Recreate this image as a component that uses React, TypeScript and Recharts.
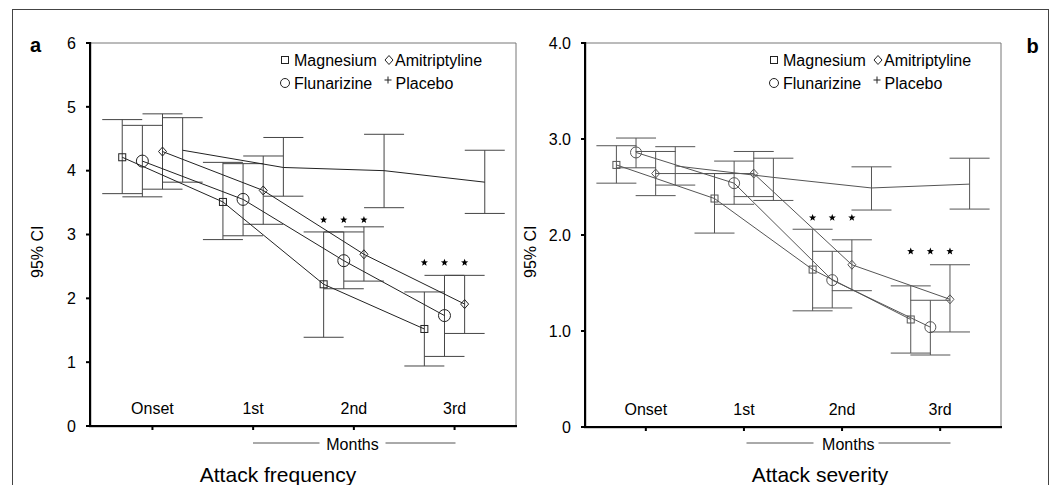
import React from 'react';
import { ScatterChart, Scatter, XAxis, YAxis, ErrorBar, ReferenceLine } from 'recharts';

const FONT = '"Liberation Sans", Arial, Helvetica, sans-serif';

const MONTHS = ['Onset', '1st', '2nd', '3rd'];
const SERIES = ['Magnesium', 'Flunarizine', 'Amitriptyline', 'Placebo'];

// Panel a: attack frequency (mean, lower CI, upper CI)
const freqMagnesium = [4.21, 3.51, 2.22, 1.52];
const freqMagnesiumLow = [3.64, 2.92, 1.39, 0.94];
const freqMagnesiumHigh = [4.8, 4.13, 3.04, 2.1];
const freqFlunarizine = [4.15, 3.55, 2.59, 1.73];
const freqFlunarizineLow = [3.59, 2.98, 2.15, 1.09];
const freqFlunarizineHigh = [4.71, 4.11, 3.04, 2.36];
const freqAmitriptyline = [4.3, 3.69, 2.69, 1.91];
const freqAmitriptylineLow = [3.71, 3.16, 2.27, 1.45];
const freqAmitriptylineHigh = [4.89, 4.23, 3.12, 2.36];
const freqPlacebo = [4.32, 4.05, 4.0, 3.82];
const freqPlaceboLow = [3.82, 3.6, 3.42, 3.33];
const freqPlaceboHigh = [4.83, 4.52, 4.57, 4.32];
const freqStars = [null, null, 3.23, 2.56];

// Panel b: attack severity
const sevMagnesium = [2.73, 2.38, 1.64, 1.12];
const sevMagnesiumLow = [2.54, 2.02, 1.21, 0.77];
const sevMagnesiumHigh = [2.93, 2.64, 2.06, 1.47];
const sevFlunarizine = [2.86, 2.54, 1.53, 1.04];
const sevFlunarizineLow = [2.7, 2.32, 1.24, 0.75];
const sevFlunarizineHigh = [3.01, 2.77, 1.83, 1.32];
const sevAmitriptyline = [2.64, 2.64, 1.69, 1.33];
const sevAmitriptylineLow = [2.41, 2.4, 1.42, 0.99];
const sevAmitriptylineHigh = [2.87, 2.87, 1.95, 1.69];
const sevPlacebo = [2.72, 2.6, 2.49, 2.53];
const sevPlaceboLow = [2.52, 2.36, 2.26, 2.27];
const sevPlaceboHigh = [2.92, 2.8, 2.71, 2.8];
const sevStars = [null, null, 2.18, 1.83];

const freqTicks = [0, 1, 2, 3, 4, 5, 6];
const sevTicks = [0, 1, 2, 3, 4];
const monthTicks = [0, 1, 2, 3];

const OFFSETS: Record<string, number> = {
  Magnesium: -0.3,
  Flunarizine: -0.1,
  Amitriptyline: 0.1,
  Placebo: 0.3,
};

type Pt = { x: number; y: number; err: number[] };

function build(name: string, mean: number[], low: number[], high: number[]): Pt[] {
  return mean.map((m, i) => ({ x: i + OFFSETS[name], y: m, err: [m - low[i], high[i] - m] }));
}

function buildStars(levels: (number | null)[]) {
  const out: { x: number; y: number }[] = [];
  levels.forEach((lv, i) => {
    if (lv == null) return;
    ['Magnesium', 'Flunarizine', 'Amitriptyline'].forEach((s) => out.push({ x: i + OFFSETS[s], y: lv }));
  });
  return out;
}

const freqData: Record<string, Pt[]> = {
  Magnesium: build('Magnesium', freqMagnesium, freqMagnesiumLow, freqMagnesiumHigh),
  Flunarizine: build('Flunarizine', freqFlunarizine, freqFlunarizineLow, freqFlunarizineHigh),
  Amitriptyline: build('Amitriptyline', freqAmitriptyline, freqAmitriptylineLow, freqAmitriptylineHigh),
  Placebo: build('Placebo', freqPlacebo, freqPlaceboLow, freqPlaceboHigh),
};
const sevData: Record<string, Pt[]> = {
  Magnesium: build('Magnesium', sevMagnesium, sevMagnesiumLow, sevMagnesiumHigh),
  Flunarizine: build('Flunarizine', sevFlunarizine, sevFlunarizineLow, sevFlunarizineHigh),
  Amitriptyline: build('Amitriptyline', sevAmitriptyline, sevAmitriptylineLow, sevAmitriptylineHigh),
  Placebo: build('Placebo', sevPlacebo, sevPlaceboLow, sevPlaceboHigh),
};

const MARKER: Record<string, string> = {
  Magnesium: 'square',
  Flunarizine: 'circle',
  Amitriptyline: 'diamond',
  Placebo: 'none',
};

function makeShape(kind: string, color: string, r: number) {
  return (props: any) => {
    const { cx, cy } = props;
    if (cx == null || cy == null) return <g />;
    if (kind === 'square')
      return <rect x={cx - 3.5} y={cy - 3.5} width={7} height={7} fill="none" stroke={color} strokeWidth={1} />;
    if (kind === 'circle') return <circle cx={cx} cy={cy} r={r} fill="none" stroke={color} strokeWidth={1} />;
    if (kind === 'diamond')
      return (
        <path
          d={`M${cx},${cy - 4.5} L${cx + 4},${cy} L${cx},${cy + 4.5} L${cx - 4},${cy} Z`}
          fill="none"
          stroke={color}
          strokeWidth={1}
        />
      );
    return <g />;
  };
}

const StarShape = (props: any) => {
  const { cx, cy } = props;
  if (cx == null || cy == null) return <g />;
  const pts: string[] = [];
  for (let k = 0; k < 10; k++) {
    const rr = k % 2 === 0 ? 3.8 : 1.6;
    const a = -Math.PI / 2 + (k * Math.PI) / 5;
    pts.push(`${cx + rr * Math.cos(a)},${cy + rr * Math.sin(a)}`);
  }
  return <polygon points={pts.join(' ')} fill="#000" />;
};

const XTick = (props: any) => {
  const { x, y, payload } = props;
  return (
    <g>
      <rect x={x - 1} y={y + 1} width={2} height={3} fill="#000" />
      <text x={x} y={y - 12} textAnchor="middle" fontSize={16} fontFamily={FONT} fill="#000">
        {MONTHS[payload.value]}
      </text>
    </g>
  );
};

type PanelProps = {
  left: number;
  width: number;
  margin: { top: number; right: number; bottom: number; left: number };
  yWidth: number;
  data: Record<string, Pt[]>;
  stars: { x: number; y: number }[];
  yMax: number;
  yTicks: number[];
  fmt: (v: number) => string;
  lineColor: string;
  barColor: string;
  circleR: number;
  xMin: number;
  xMax: number;
};

const Panel = (p: PanelProps) => (
  <div style={{ position: 'absolute', left: p.left, top: 0 }}>
    <ScatterChart width={p.width} height={485} margin={p.margin}>
      <XAxis
        type="number"
        dataKey="x"
        domain={[p.xMin, p.xMax]}
        ticks={monthTicks}
        allowDataOverflow
        height={20}
        tickSize={0}
        tickMargin={0}
        tickLine={false}
        axisLine={{ stroke: '#000', strokeWidth: 2 }}
        tick={(tp: any) => <XTick {...tp} />}
        interval={0}
      />
      <YAxis
        type="number"
        dataKey="y"
        domain={[0, p.yMax]}
        ticks={p.yTicks}
        width={p.yWidth}
        tickSize={4}
        tickMargin={10}
        tickFormatter={p.fmt}
        stroke="#000"
        tickLine={{ stroke: '#000', strokeWidth: 2 }}
        axisLine={{ stroke: '#000', strokeWidth: 2 }}
        tick={{ fontSize: 16, fill: '#000', fontFamily: FONT }}
        interval={0}
      />
      <ReferenceLine y={p.yMax} stroke="#777" strokeWidth={1} />
      <ReferenceLine x={p.xMax} stroke="#777" strokeWidth={1} />
      {SERIES.map((s) => (
        <Scatter
          key={s}
          name={s}
          data={p.data[s]}
          line={{ stroke: p.lineColor, strokeWidth: 1 }}
          shape={makeShape(MARKER[s], p.lineColor, p.circleR)}
          isAnimationActive={false}
        >
          <ErrorBar dataKey="err" direction="y" width={20} stroke={p.barColor} strokeWidth={1} isAnimationActive={false} />
        </Scatter>
      ))}
      <Scatter name="stars" data={p.stars} shape={StarShape} isAnimationActive={false} />
    </ScatterChart>
  </div>
);

const LegendBlock = ({ dx }: { dx: number }) => {
  const items = [
    { name: SERIES[0], mx: 285, my: 60, tx: 294, ty: 65.5 },
    { name: SERIES[2], mx: 389, my: 60, tx: 395, ty: 65.5 },
    { name: SERIES[1], mx: 285, my: 83, tx: 294, ty: 88.5 },
    { name: SERIES[3], mx: 388, my: 80, tx: 395.5, ty: 88.5 },
  ];
  return (
    <g>
      {items.map((it) => {
        const kind = MARKER[it.name];
        const cx = it.mx + dx;
        const cy = it.my;
        let m: React.ReactNode = null;
        if (kind === 'square') m = <rect x={cx - 3.5} y={cy - 3.5} width={7} height={7} fill="none" stroke="#222" />;
        else if (kind === 'diamond')
          m = <path d={`M${cx},${cy - 4.5} L${cx + 4},${cy} L${cx},${cy + 4.5} L${cx - 4},${cy} Z`} fill="none" stroke="#222" />;
        else if (kind === 'circle') m = <circle cx={cx} cy={cy} r={4.5} fill="none" stroke="#222" />;
        else
          m = (
            <path d={`M${cx - 3.5},${cy} L${cx + 3.5},${cy} M${cx},${cy - 3.5} L${cx},${cy + 3.5}`} stroke="#222" strokeWidth={1} />
          );
        return (
          <g key={it.name}>
            {m}
            <text x={it.tx + dx} y={it.ty} fontSize={16} fontFamily={FONT} fill="#000">
              {it.name}
            </text>
          </g>
        );
      })}
    </g>
  );
};

const Overlay = () => (
  <svg
    width={1055}
    height={485}
    style={{ position: 'absolute', left: 0, top: 0, pointerEvents: 'none' }}
  >
    <rect x={12.5} y={9.5} width={1036} height={500} fill="none" stroke="#444" strokeWidth={1} />
    {/* axis frames (bottom and left) */}
    <rect x={89} y={42} width={2.2} height={385} fill="#000" />
    <rect x={89} y={425} width={428} height={2.2} fill="#000" />
    <rect x={584} y={42} width={2.2} height={386} fill="#000" />
    <rect x={584} y={426} width={418} height={2.2} fill="#000" />
    <text x={30} y={52} fontSize={20} fontWeight="bold" fontFamily={FONT} fill="#000">a</text>
    <text x={1026.5} y={53} fontSize={20} fontWeight="bold" fontFamily={FONT} fill="#000">b</text>
    <LegendBlock dx={0} />
    <LegendBlock dx={489} />
    <text transform="translate(43,251.7) rotate(-90)" textAnchor="middle" fontSize={16} fontFamily={FONT} fill="#000">95% CI</text>
    <text transform="translate(536,251.7) rotate(-90)" textAnchor="middle" fontSize={16} fontFamily={FONT} fill="#000">95% CI</text>
    <line x1={253} y1={443} x2={319.5} y2={443} stroke="#555" />
    <text x={352.5} y={449.5} textAnchor="middle" fontSize={16} fontFamily={FONT} fill="#000">Months</text>
    <line x1={385.5} y1={443} x2={455.5} y2={443} stroke="#555" />
    <line x1={746.5} y1={443} x2={813.5} y2={443} stroke="#555" />
    <text x={848.3} y={449.5} textAnchor="middle" fontSize={16} fontFamily={FONT} fill="#000">Months</text>
    <line x1={878.5} y1={443} x2={950.5} y2={443} stroke="#555" />
    <text x={278} y={482} textAnchor="middle" fontSize={21} fontFamily={FONT} fill="#000">Attack frequency</text>
    <text x={820} y={482} textAnchor="middle" fontSize={21} fontFamily={FONT} fill="#000">Attack severity</text>
  </svg>
);

export default function App() {
  return (
    <div style={{ position: 'absolute', left: 0, top: 0, width: 1055, height: 485, overflow: 'hidden', background: '#fff', fontFamily: FONT }}>
      <Panel
        left={0}
        width={530}
        margin={{ top: 43, right: 14, bottom: 39, left: 0 }}
        yWidth={90}
        data={freqData}
        stars={buildStars(freqStars)}
        yMax={6}
        yTicks={freqTicks}
        fmt={(v: number) => String(v)}
        lineColor="#222"
        barColor="#444"
        circleR={6}
        xMin={-0.62}
        xMax={3.61}
      />
      <Panel
        left={530}
        width={525}
        margin={{ top: 43, right: 54, bottom: 38, left: 0 }}
        yWidth={55}
        data={sevData}
        stars={buildStars(sevStars)}
        yMax={4}
        yTicks={sevTicks}
        fmt={(v: number) => (v === 0 ? '0' : v.toFixed(1))}
        lineColor="#555"
        barColor="#555"
        circleR={5.5}
        xMin={-0.62}
        xMax={3.62}
      />
      <Overlay />
    </div>
  );
}
